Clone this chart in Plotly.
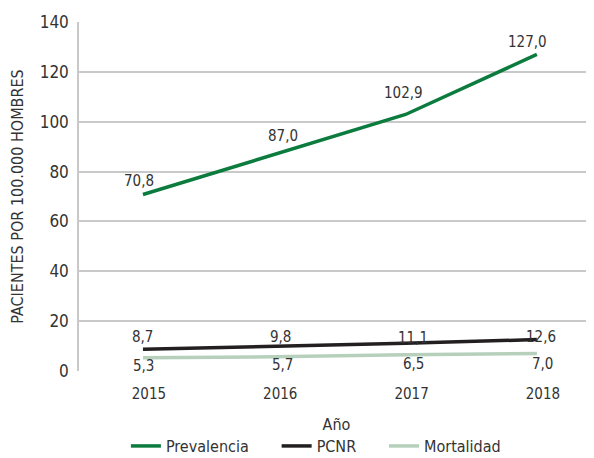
import plotly.graph_objects as go

years = ["2015", "2016", "2017", "2018"]
prevalencia = [70.8, 87.0, 102.9, 127.0]
pcnr = [8.7, 9.8, 11.1, 12.6]
mortalidad = [5.3, 5.7, 6.5, 7.0]

FONT = "Liberation Sans Narrow, DejaVu Sans Condensed, Roboto, sans-serif"

PAD = "\u00a0" * 5
series = [
    ("Prevalencia", PAD, prevalencia, "#0b7b3e", [(-4, 14), (9, 18), (-2, 21), (-9, 12)]),
    ("PCNR", PAD, pcnr, "#231f20", [(0, 12), (6, 10), (7, 5), (4, 3)]),
    ("Mortalidad", "", mortalidad, "#b7d0bb", [(1, -8), (8, -8), (8, -9), (6, -10)]),
]

def fmt(v):
    return f"{v:.1f}".replace(".", ",")

fig = go.Figure()
annotations = []
for name, pad, vals, color, shifts in series:
    fig.add_trace(go.Scatter(x=years, y=vals, mode="lines", name=name + pad,
                             line=dict(color=color, width=3.5)))
    for i, v in enumerate(vals):
        xs, ys = shifts[i]
        annotations.append(dict(x=i, y=v, xref="x", yref="y", text=fmt(v),
                                showarrow=False, xshift=xs, yshift=ys,
                                font=dict(family=FONT, size=15, color="#333333")))

fig.update_layout(
    width=594, height=458,
    margin=dict(l=71, r=8, t=14, b=95, autoexpand=False),
    paper_bgcolor="white", plot_bgcolor="white",
    font=dict(family=FONT, size=16, color="#333333"),
    showlegend=True,
    legend=dict(orientation="h", x=0.46, xanchor="center",
                y=-0.215, yanchor="middle",
                font=dict(family=FONT, size=16, color="#333333"),
                tracegroupgap=0, bgcolor="rgba(0,0,0,0)"),
    annotations=annotations,
    xaxis=dict(type="category", range=[-0.487, 3.435], showgrid=False,
               showline=False, zeroline=False, ticks="", ticklabelstandoff=12,
               ticklabelshift=6,
               tickfont=dict(size=15), title=dict(text="Año", standoff=16,
                                                  font=dict(size=16))),
    yaxis=dict(range=[0, 140], dtick=20, showgrid=True, gridcolor="#c9c9c9",
               gridwidth=1.5, showline=True, linecolor="#c9c9c9", linewidth=1.5,
               zeroline=False, ticks="", tickfont=dict(size=17),
               ticklabelstandoff=5,
               title=dict(text="PACIENTES POR 100.000 HOMBRES", standoff=17,
                          font=dict(size=16))),
)

fig.write_html("out.html")
